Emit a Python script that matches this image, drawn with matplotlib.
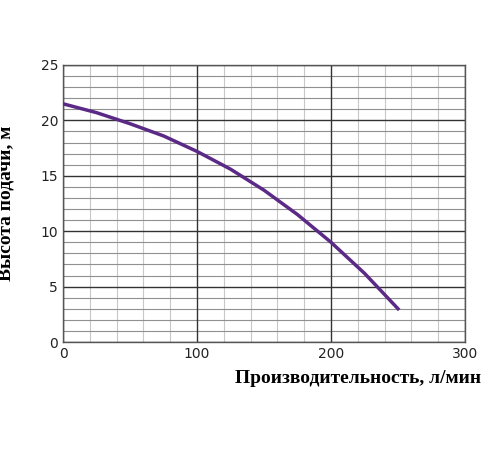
import matplotlib
matplotlib.use("Agg")
import matplotlib.pyplot as plt
import numpy as np

flow = [0, 25, 50, 75, 100, 125, 150, 175, 200, 225, 250]
head = [21.5, 20.7, 19.7, 18.6, 17.2, 15.6, 13.7, 11.5, 9.0, 6.2, 3.0]

fig = plt.figure(figsize=(5, 4.5), dpi=100)
ax = fig.add_axes([63/500, 1-342/450, 402/500, 277/450])
ax.set_xlim(0, 300); ax.set_ylim(0, 25)
ax.set_xticks([0, 100, 200, 300]); ax.set_yticks(range(0, 26, 5))
for x in range(20, 300, 20):
    if x % 100: ax.axvline(x, color='#c8c8c8', lw=0.8, zorder=0)
for y in range(1, 25):
    if y % 5: ax.axhline(y, color='#909090', lw=0.8, zorder=0)
ax.grid(which='major', color='#333333', lw=1.0)
ax.tick_params(which='both', length=0, labelsize=10, colors='#222222')
for s in ax.spines.values(): s.set_color('#555555'); s.set_linewidth(1)
ax.plot(flow, head, color='#5b2a86', lw=2.5, zorder=3, solid_joinstyle='round')
ax.set_xlabel('Производительность, л/мин', family='Liberation Serif', fontweight='bold', fontsize=14)
ax.xaxis.set_label_coords(1.04, -0.1); ax.xaxis.label.set_ha('right')
ax.set_ylabel('Высота подачи, м', family='Liberation Serif', fontweight='bold', fontsize=14)
ax.yaxis.set_label_coords(-0.12, 0.5)
fig.savefig('out.png', dpi=100)
